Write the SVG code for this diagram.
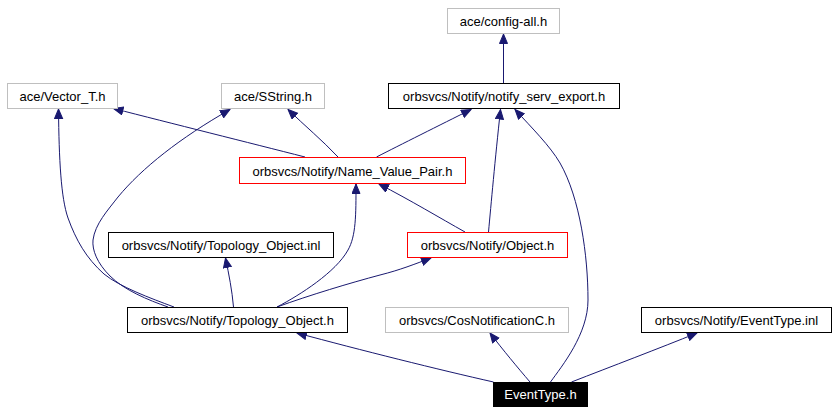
<svg xmlns="http://www.w3.org/2000/svg" width="837" height="413" viewBox="0 0 837 413">
<style>
.n rect{fill:#fff;stroke-width:1}
.g rect{stroke:#bfbfbf}
.k rect{stroke:#000}
.r rect{stroke:#ff0000}
text{font-family:"Liberation Sans",Arial,sans-serif;font-size:13px;text-anchor:middle;fill:#000}
.e path{fill:none;stroke:#191970;stroke-width:1}
</style>
<defs>
<marker id="a" markerWidth="11" markerHeight="10" refX="10" refY="4.5" orient="auto" markerUnits="userSpaceOnUse">
<path d="M0.5,0.5 L10,4.5 L0.5,8.5 z" fill="#191970" stroke="#191970"/>
</marker>
</defs>
<rect width="837" height="413" fill="#fff"/>
<g class="e" id="edges">
<path marker-end="url(#a)" d="M503.5,83 L503.5,34"/>
<path marker-end="url(#a)" d="M376.5,157 C400,145 440,125 471,109.5"/>
<path marker-end="url(#a)" d="M488.5,232 C491,205 495,160 500.5,109.5"/>
<path marker-end="url(#a)" d="M550.5,382 C562,366 588,334 588,300 C588,256 580,198 560,163 C550,146 532,128 515,109.5"/>
<path marker-end="url(#a)" d="M305,157 C250,143 170,123 113.5,108.5"/>
<path marker-end="url(#a)" d="M338,157 C322,140 305,126 288,109.5"/>
<path marker-end="url(#a)" d="M465,232 C440,218 410,200 379,184"/>
<path marker-end="url(#a)" d="M277,307 C300,295 336,272 348,250 C356,236 356,215 356,184"/>
<path marker-end="url(#a)" d="M174,307 C150,298 120,287 104,274 C86,258 76,240 68,218 C61,198 59,160 58.5,109"/>
<path marker-end="url(#a)" d="M168,307 C148,300 124,290 110,276 C97,263 92,250 93,240 C95,224 108,210 118,197 C142,168 180,138 230,109.5"/>
<path marker-end="url(#a)" d="M233.5,307 C232,290 229,275 225.5,258"/>
<path marker-end="url(#a)" d="M277,307 C310,295 350,283 380,275 C400,270 415,264 431,258"/>
<path marker-end="url(#a)" d="M493.5,382 C440,370 360,350 297,333"/>
<path marker-end="url(#a)" d="M530,382 C518,368 503,350 490,333"/>
<path marker-end="url(#a)" d="M571.5,382 C610,367 660,348 697,333"/>
</g>
<g id="n_config" class="n g"><rect x="447.5" y="8.5" width="112" height="25"/><text x="503.5" y="25.5">ace/config-all.h</text></g>
<g id="n_vector" class="n g"><rect x="7.5" y="83.5" width="110" height="25"/><text x="62.5" y="100.5">ace/Vector_T.h</text></g>
<g id="n_sstring" class="n g"><rect x="221.5" y="83.5" width="103" height="25"/><text x="273" y="100.5">ace/SString.h</text></g>
<g id="n_export" class="n k"><rect x="388.5" y="83.5" width="231" height="25"/><text x="504" y="100.5">orbsvcs/Notify/notify_serv_export.h</text></g>
<g id="n_nvp" class="n r"><rect x="239.5" y="157.5" width="226" height="26"/><text x="352.5" y="175.5">orbsvcs/Notify/Name_Value_Pair.h</text></g>
<g id="n_topinl" class="n k"><rect x="108.5" y="232.5" width="225" height="25"/><text x="221" y="249.5">orbsvcs/Notify/Topology_Object.inl</text></g>
<g id="n_object" class="n r"><rect x="407.5" y="232.5" width="160" height="25"/><text x="487.5" y="249.5">orbsvcs/Notify/Object.h</text></g>
<g id="n_toph" class="n k"><rect x="127.5" y="307.5" width="220" height="25"/><text x="237.5" y="324.5">orbsvcs/Notify/Topology_Object.h</text></g>
<g id="n_cos" class="n g"><rect x="385.5" y="307.5" width="183" height="25"/><text x="477" y="324.5">orbsvcs/CosNotificationC.h</text></g>
<g id="n_etinl" class="n k"><rect x="641.5" y="307.5" width="190" height="25"/><text x="736.5" y="324.5">orbsvcs/Notify/EventType.inl</text></g>
<g id="n_eth"><rect x="493.5" y="382.5" width="94" height="24" fill="#000" stroke="#000"/><text x="540.5" y="399" style="fill:#fff">EventType.h</text></g>
</svg>
